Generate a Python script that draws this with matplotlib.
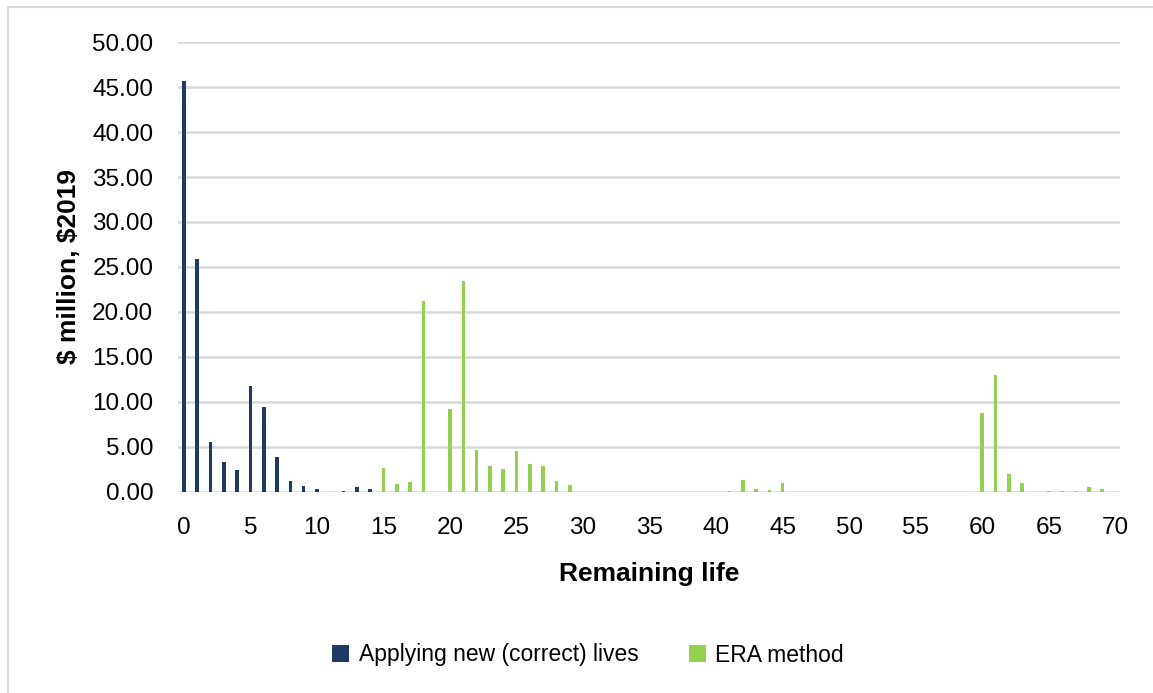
import matplotlib
matplotlib.use("Agg")
import matplotlib.pyplot as plt
from matplotlib.patches import Rectangle
import numpy as np

plt.rcParams['font.family'] = ['Liberation Sans', 'DejaVu Sans']

# Remaining life (years) for each series
new_lives_x = list(range(0, 15))
new_lives_vals = [45.7, 25.85, 5.55, 3.25, 2.35, 11.7, 9.45, 3.8, 1.15, 0.6, 0.28, 0.0, 0.04, 0.45, 0.3]

era_x = list(range(15, 70))
era_vals = [2.6, 0.8, 1.05, 21.2, 0.0, 9.15, 23.45, 4.6, 2.85, 2.45, 4.5, 3.1, 2.8, 1.2, 0.75,
            0, 0, 0, 0, 0, 0, 0, 0, 0, 0, 0,
            0.05, 1.3, 0.27, 0.2, 0.9,
            0, 0, 0, 0, 0, 0, 0, 0, 0, 0, 0, 0, 0, 0,
            8.7, 13.0, 2.0, 0.9, 0.0, 0.05, 0.03, 0.03, 0.55, 0.25]

series_names = ["Applying new (correct) lives", "ERA method"]
colors = ["#203864", "#92D050"]
y_ticks = np.arange(0, 50.01, 5)
x_ticks = np.arange(0, 71, 5)

fig = plt.figure(figsize=(11.53, 6.93), dpi=100)
ax = fig.add_axes([178.3/1153, 1-491.5/693, (1120-178.3)/1153, (491.5-42.3)/693])

w = 0.27
ax.bar(new_lives_x, new_lives_vals, width=w, color=colors[0], label=series_names[0], zorder=3)
ax.bar(era_x, era_vals, width=w, color=colors[1], label=series_names[1], zorder=3)

ax.set_xlim(-0.42, 70.35)
ax.set_ylim(0, 50)
ax.set_yticks(y_ticks)
ax.set_yticklabels([f"{v:.2f}" for v in y_ticks])
ax.set_xticks(x_ticks)
ax.set_xticklabels([str(v) for v in x_ticks])
ax.tick_params(axis='both', length=0, labelsize=17.5, colors='black')
ax.tick_params(axis='y', pad=18)
ax.tick_params(axis='x', pad=18)
ax.grid(axis='y', color='#d9d9d9', linewidth=1.8, zorder=0)
ax.set_axisbelow(True)
for s in ax.spines.values():
    s.set_visible(False)

ax.set_xlabel("Remaining life", fontsize=19, fontweight='bold', labelpad=17)
ax.set_ylabel(r"\$ million, \$2019", fontsize=19, fontweight='bold', labelpad=8)

leg = fig.legend(loc='center', bbox_to_anchor=(588/1153, 1-655/693), ncol=2, frameon=False,
                 fontsize=16.5, handlelength=0.75, handleheight=0.75, handletextpad=0.4,
                 columnspacing=2.2)

# outer frame
fig.patches.append(Rectangle((8/1153, -0.05), 1.2, 1-7/693+0.05, transform=fig.transFigure,
                             fill=False, edgecolor='#d9d9d9', linewidth=1.5))

fig.savefig("out.png", dpi=100, facecolor='white')
